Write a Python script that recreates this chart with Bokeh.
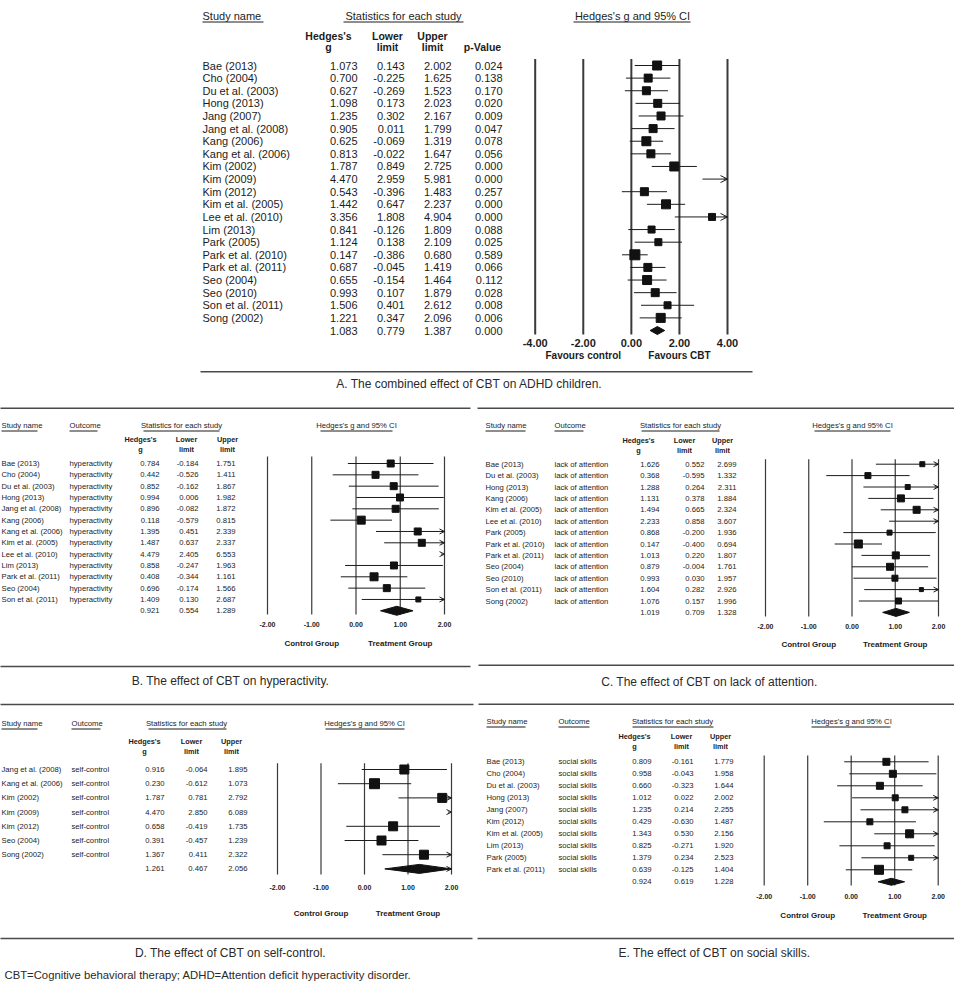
import numpy as np
from bokeh.plotting import figure
from bokeh.models import Range1d, ColumnDataSource, Arrow, OpenHead
from bokeh.core.properties import value
from bokeh.embed import file_html
from bokeh.resources import INLINE

# ---------------- data ----------------
# A. combined effect
names_a = ["Bae (2013)", "Cho (2004)", "Du et al. (2003)", "Hong (2013)", "Jang (2007)",
           "Jang et al. (2008)", "Kang (2006)", "Kang et al. (2006)", "Kim (2002)", "Kim (2009)",
           "Kim (2012)", "Kim et al. (2005)", "Lee et al. (2010)", "Lim (2013)", "Park (2005)",
           "Park et al. (2010)", "Park et al. (2011)", "Seo (2004)", "Seo (2010)",
           "Son et al. (2011)", "Song (2002)"]
g_a = [1.073, 0.700, 0.627, 1.098, 1.235, 0.905, 0.625, 0.813, 1.787, 4.470, 0.543,
       1.442, 3.356, 0.841, 1.124, 0.147, 0.687, 0.655, 0.993, 1.506, 1.221]
lo_a = [0.143, -0.225, -0.269, 0.173, 0.302, 0.011, -0.069, -0.022, 0.849, 2.959, -0.396,
        0.647, 1.808, -0.126, 0.138, -0.386, -0.045, -0.154, 0.107, 0.401, 0.347]
hi_a = [2.002, 1.625, 1.523, 2.023, 2.167, 1.799, 1.319, 1.647, 2.725, 5.981, 1.483,
        2.237, 4.904, 1.809, 2.109, 0.680, 1.419, 1.464, 1.879, 2.612, 2.096]
p_a = [0.024, 0.138, 0.170, 0.020, 0.009, 0.047, 0.078, 0.056, 0.000, 0.000, 0.257,
       0.000, 0.000, 0.088, 0.025, 0.589, 0.066, 0.112, 0.028, 0.008, 0.006]
sum_a = [1.083, 0.779, 1.387, 0.000]
sq_a = [9, 8, 8, 8, 8, 8, 9, 8, 9, 8, 8, 9, 7, 7, 7, 10, 8, 9, 8, 7, 9]

# B. hyperactivity
names_b = ["Bae (2013)", "Cho (2004)", "Du et al. (2003)", "Hong (2013)", "Jang et al. (2008)",
           "Kang (2006)", "Kang et al. (2006)", "Kim et al. (2005)", "Lee et al. (2010)",
           "Lim (2013)", "Park et al. (2011)", "Seo (2004)", "Son et al. (2011)"]
g_b = [0.784, 0.442, 0.852, 0.994, 0.896, 0.118, 1.395, 1.487, 4.479, 0.858, 0.408, 0.696, 1.409]
lo_b = [-0.184, -0.526, -0.162, 0.006, -0.082, -0.579, 0.451, 0.637, 2.405, -0.247, -0.344, -0.174, 0.130]
hi_b = [1.751, 1.411, 1.867, 1.982, 1.872, 0.815, 2.339, 2.337, 6.553, 1.963, 1.161, 1.566, 2.687]
sum_b = [0.921, 0.554, 1.289]
sq_b = [7, 7, 7, 7, 7, 8, 7, 7, 6, 7, 8, 7, 5]

# C. lack of attention
names_c = ["Bae (2013)", "Du et al. (2003)", "Hong (2013)", "Kang (2006)", "Kim et al. (2005)",
           "Lee et al. (2010)", "Park (2005)", "Park et al. (2010)", "Park et al. (2011)",
           "Seo (2004)", "Seo (2010)", "Son et al. (2011)", "Song (2002)"]
g_c = [1.626, 0.368, 1.288, 1.131, 1.494, 2.233, 0.868, 0.147, 1.013, 0.879, 0.993, 1.604, 1.076]
lo_c = [0.552, -0.595, 0.264, 0.378, 0.665, 0.858, -0.200, -0.400, 0.220, -0.004, 0.030, 0.282, 0.157]
hi_c = [2.699, 1.332, 2.311, 1.884, 2.324, 3.607, 1.936, 0.694, 1.807, 1.761, 1.957, 2.926, 1.996]
sum_c = [1.019, 0.709, 1.328]
sq_c = [5, 6, 5, 7, 7, 6, 5, 8, 7, 7, 6, 4, 6]

# D. self-control
names_d = ["Jang et al. (2008)", "Kang et al. (2006)", "Kim (2002)", "Kim (2009)",
           "Kim (2012)", "Seo (2004)", "Song (2002)"]
g_d = [0.916, 0.230, 1.787, 4.470, 0.658, 0.391, 1.367]
lo_d = [-0.064, -0.612, 0.781, 2.850, -0.419, -0.457, 0.411]
hi_d = [1.895, 1.073, 2.792, 6.089, 1.735, 1.239, 2.322]
sum_d = [1.261, 0.467, 2.056]
sq_d = [9, 10, 9, 8, 9, 9, 9]

# E. social skills
names_e = ["Bae (2013)", "Cho (2004)", "Du et al. (2003)", "Hong (2013)", "Jang (2007)",
           "Kim (2012)", "Kim et al. (2005)", "Lim (2013)", "Park (2005)", "Park et al. (2011)"]
g_e = [0.809, 0.958, 0.660, 1.012, 1.235, 0.429, 1.343, 0.825, 1.379, 0.639]
lo_e = [-0.161, -0.043, -0.323, 0.022, 0.214, -0.630, 0.530, -0.271, 0.234, -0.125]
hi_e = [1.779, 1.958, 1.644, 2.002, 2.255, 1.487, 2.156, 1.920, 2.523, 1.404]
sum_e = [0.924, 0.619, 1.228]
sq_e = [7, 7, 7, 6, 6, 6, 8, 6, 5, 9]

ticks_a = [-4.0, -2.0, 0.0, 2.0, 4.0]
ticks_small = [-2.0, -1.0, 0.0, 1.0, 2.0]

captions = ["A. The combined effect of CBT on ADHD children.",
            "B. The effect of CBT on hyperactivity.",
            "C. The effect of CBT on lack of attention.",
            "D. The effect of CBT on self-control.",
            "E. The effect of CBT on social skills."]
footnote = "CBT=Cognitive behavioral therapy; ADHD=Attention deficit hyperactivity disorder."

# ---------------- styling / layout ----------------
SANS = "Liberation Sans"
INK = "#1c1c1c"
GRID = "#3a3a3a"
W, H = 954, 982
X0, Y0 = 8, 8

p = figure(width=W, height=H, x_range=Range1d(X0, X0 + W), y_range=Range1d(Y0 + H, Y0),
           output_backend="svg", toolbar_location=None, min_border=0,
           x_axis_location=None, y_axis_location=None, outline_line_color=None,
           background_fill_color="white", border_fill_color="white")
for gr in list(p.xgrid) + list(p.ygrid):
    gr.visible = False

xr, yr = {}, {}


def txt(x, y, t, font, size, align="left", bold=False, color=INK, **kw):
    p.text(x=x, y=y, text=t, text_font=value(font), text_font_size=size,
           text_align=align, text_baseline="middle", text_color=color,
           text_font_style="bold" if bold else "normal", **kw)


def add_panel(cfg, names, outcome, g, lo, hi, summ, pv, sq):
    key = cfg["key"]
    ticks = cfg["ticks"]
    v0, v1 = ticks[0], ticks[-1]
    px0, px1 = cfg["px0"], cfg["px1"]
    k = (px1 - px0) / (v1 - v0)
    xr[key] = Range1d(v0 + (X0 - px0) / k, v0 + (X0 + W - px0) / k)
    r0, dy = cfg["row0"], cfg["dy"]
    yr[key] = Range1d((Y0 + H - r0) / dy, (Y0 - r0) / dy)

    def to_row(py):
        return (py - r0) / dy

    n = len(names)
    rows = np.arange(n)
    g, lo, hi = np.array(g), np.array(lo), np.array(hi)
    xmin, xmax = v0, v1
    font, fs, fsb = cfg["font"], cfg["fs"], cfg["fsb"]
    rk = dict(x_range_name=key, y_range_name=key)

    # vertical reference lines
    p.segment(x0=ticks, x1=ticks, y0=[to_row(cfg["gtop"])] * len(ticks),
              y1=[to_row(cfg["gbot"])] * len(ticks), line_color=GRID,
              line_width=cfg["glw"], **rk)

    # confidence intervals
    vis = lo < xmax
    ci = ColumnDataSource(dict(y=rows[vis], x0=np.clip(lo, xmin, xmax)[vis],
                               x1=np.clip(hi, xmin, xmax)[vis]))
    p.segment(x0="x0", x1="x1", y0="y", y1="y", source=ci, line_color=INK,
              line_width=1, **rk)

    # squares
    inside = (g >= xmin) & (g <= xmax)
    p.scatter(x=g[inside], y=rows[inside], size=np.array(sq)[inside], marker="square",
              fill_color="#111111", line_color="#111111", **rk)

    # summary diamond
    sg, slo, shi = summ[0], summ[1], summ[2]
    h = cfg["half"] / dy
    p.patch(x=[max(slo, xmin), sg, min(shi, xmax), sg], y=[n, n - h, n, n + h],
            fill_color="#111111", line_color="#111111", line_width=1, **rk)

    # arrows for intervals running past the axis
    over_rows = list(rows[hi > xmax])
    if shi > xmax:
        over_rows.append(n)
    if over_rows:
        eps = (xmax - xmin) * 0.02
        asrc = ColumnDataSource(dict(y=over_rows, xs=[xmax - eps] * len(over_rows),
                                     xe=[xmax] * len(over_rows)))
        p.add_layout(Arrow(end=OpenHead(size=cfg["ahead"], line_color=INK, line_width=1),
                           x_start="xs", y_start="y", x_end="xe", y_end="y", source=asrc,
                           line_color=INK, line_width=1, **rk))

    # tick labels and group labels
    txt(ticks, [cfg["tick_y"]] * len(ticks), [f"{t:.2f}" for t in ticks], font,
        cfg["fst"], align="center", bold=True, x_range_name=key)
    txt(cfg["grp_x"], [cfg["grp_y"]] * 2, cfg["grp_lab"], font, cfg["fsg"],
        align="center", bold=True, x_range_name=key)

    # table
    cols = cfg["cols"]
    tab = dict(y=rows, name=names, gt=[f"{v:.3f}" for v in g],
               lot=[f"{v:.3f}" for v in lo], hit=[f"{v:.3f}" for v in hi])
    if outcome is not None:
        tab["out"] = [outcome] * n
    if pv is not None:
        tab["pt"] = [f"{v:.3f}" for v in pv]
    src = ColumnDataSource(tab)
    for field, xpos, align in cols:
        p.text(x=xpos, y="y", text=field, source=src, text_font=value(font),
               text_font_size=fs, text_align=align, text_baseline="middle",
               text_color=INK, y_range_name=key)
    sum_fields = {"gt": summ[0], "lot": summ[1], "hit": summ[2]}
    if pv is not None:
        sum_fields["pt"] = summ[3]
    for field, xpos, align in cols:
        if field in sum_fields:
            txt([xpos], [n], [f"{sum_fields[field]:.3f}"], font, fs, align="right",
                y_range_name=key)

    # headers
    for label, xpos, align, ul in cfg["titles"]:
        txt([xpos], [cfg["title_y"]], [label], font, fs, align=align)
        p.segment(x0=[ul[0]], x1=[ul[1]], y0=[cfg["title_y"] + cfg["ul_off"]],
                  y1=[cfg["title_y"] + cfg["ul_off"]], line_color=INK, line_width=1)
    for l1, l2, xpos in cfg["colheads"]:
        if l1:
            txt([xpos], [cfg["ch_y"][0]], [l1], font, fsb, align="center", bold=True)
        txt([xpos], [cfg["ch_y"][1]], [l2], font, fsb, align="center", bold=True)


HG = "Hedges's g and 95% CI"
ST = "Statistics for each study"

cfg_a = dict(key="A", ticks=ticks_a, px0=542.7, px1=735.0, row0=73.0, dy=12.62,
             gtop=66.5, gbot=342.0, glw=2.0, tick_y=350.5, grp_y=362.5, grp_x=[-2.0, 2.0],
             grp_lab=["Favours control", "Favours CBT"], half=4.0, ahead=7,
             font=SANS, fs="11px", fsb="10.5px", fst="11px", fsg="10px",
             cols=[("name", 210, "left"), ("gt", 365, "right"), ("lot", 412, "right"),
                   ("hit", 459, "right"), ("pt", 510, "right")],
             title_y=23.5, ul_off=6,
             titles=[("Study name", 210, "left", (210, 271)), (ST, 411, "center", (351, 471)),
                     (HG, 640, "center", (581, 698))],
             ch_y=(43, 54.5),
             colheads=[("Hedges's", "g", 336), ("Lower", "limit", 395),
                       ("Upper", "limit", 440), (None, "p-Value", 490)])

small = dict(ticks=ticks_small, glw=1.2, grp_x=[-1.0, 1.0],
             grp_lab=["Control Group", "Treatment Group"], ahead=5,
             font=SANS, fs="7.7px", fsb="7.3px", fst="7px", fsg="8px", ul_off=5.5)

cfg_b = dict(small, key="B", px0=275.0, px1=452.0, row0=471.0, dy=11.33, gtop=464.0,
             gbot=622.0, tick_y=632.0, grp_y=651.0, half=4.5,
             cols=[("name", 9, "left"), ("out", 77, "left"), ("gt", 167, "right"),
                   ("lot", 206, "right"), ("hit", 243, "right")],
             title_y=433.0,
             titles=[("Study name", 9, "left", (9, 45)), ("Outcome", 77, "left", (77, 105)),
                     (ST, 189, "center", (151, 227)), (HG, 364, "center", (328, 400))],
             ch_y=(447, 457),
             colheads=[("Hedges's", "g", 148), ("Lower", "limit", 194), ("Upper", "limit", 235)])

cfg_c = dict(small, key="C", px0=773.0, px1=946.0, row0=471.7, dy=11.4, gtop=466.7,
             gbot=624.0, tick_y=634.0, grp_y=652.0, half=4.0,
             cols=[("name", 493, "left"), ("out", 562, "left"), ("gt", 667, "right"),
                   ("lot", 712, "right"), ("hit", 744, "right")],
             title_y=433.0,
             titles=[("Study name", 493, "left", (493, 533)), ("Outcome", 562, "left", (562, 591)),
                     (ST, 688, "center", (649, 727)), (HG, 860, "center", (822, 898))],
             ch_y=(448, 457.5),
             colheads=[("Hedges's", "g", 646), ("Lower", "limit", 692), ("Upper", "limit", 730)])

cfg_d = dict(small, key="D", px0=285.0, px1=459.0, row0=777.0, dy=14.2, gtop=770.7,
             gbot=882.0, tick_y=895.0, grp_y=920.7, half=4.5,
             cols=[("name", 9, "left"), ("out", 79, "left"), ("gt", 172, "right"),
                   ("lot", 215, "right"), ("hit", 255, "right")],
             title_y=731.0,
             titles=[("Study name", 9, "left", (9, 45)), ("Outcome", 79, "left", (79, 108)),
                     (ST, 194, "center", (156, 234)), (HG, 372, "center", (333, 412))],
             ch_y=(749, 759),
             colheads=[("Hedges's", "g", 152), ("Lower", "limit", 199), ("Upper", "limit", 239)])

cfg_e = dict(small, key="E", px0=771.7, px1=945.7, row0=769.3, dy=12.0, gtop=763.0,
             gbot=893.0, tick_y=904.0, grp_y=923.3, half=3.5,
             cols=[("name", 494, "left"), ("out", 566, "left"), ("gt", 659, "right"),
                   ("lot", 701, "right"), ("hit", 741, "right")],
             title_y=729.0,
             titles=[("Study name", 494, "left", (494, 533)), ("Outcome", 566, "left", (566, 597)),
                     (ST, 680, "center", (640, 721)), (HG, 859, "center", (819, 898))],
             ch_y=(744, 753.5),
             colheads=[("Hedges's", "g", 642), ("Lower", "limit", 689), ("Upper", "limit", 728)])

add_panel(cfg_a, names_a, None, g_a, lo_a, hi_a, sum_a, p_a, sq_a)
add_panel(cfg_b, names_b, "hyperactivity", g_b, lo_b, hi_b, sum_b, None, sq_b)
add_panel(cfg_c, names_c, "lack of attention", g_c, lo_c, hi_c, sum_c, None, sq_c)
add_panel(cfg_d, names_d, "self-control", g_d, lo_d, hi_d, sum_d, None, sq_d)
add_panel(cfg_e, names_e, "social skills", g_e, lo_e, hi_e, sum_e, None, sq_e)

p.extra_x_ranges = xr
p.extra_y_ranges = yr

# separators
sep = [(208, 760, 3), (208, 760, 379.3), (0, 478, 415.7), (485, 970, 415.7),
       (0, 478, 674), (486, 970, 672.7), (0, 481, 712), (486, 970, 711.7),
       (0, 480, 946), (485, 970, 946)]
p.segment(x0=[s[0] for s in sep], x1=[s[1] for s in sep], y0=[s[2] for s in sep],
          y1=[s[2] for s in sep], line_color="#4a4a4a", line_width=1.6)

# captions
cap_pos = [(477, 391.5), (238, 688), (717, 689), (238, 960), (722, 960)]
txt([c[0] for c in cap_pos], [c[1] for c in cap_pos], captions, SANS, "12px",
    align="center", color="#2a2a2a")
txt([12], [982.5], [footnote], SANS, "11.3px", color="#2a2a2a")

open("out.html", "w").write(file_html(p, INLINE))
